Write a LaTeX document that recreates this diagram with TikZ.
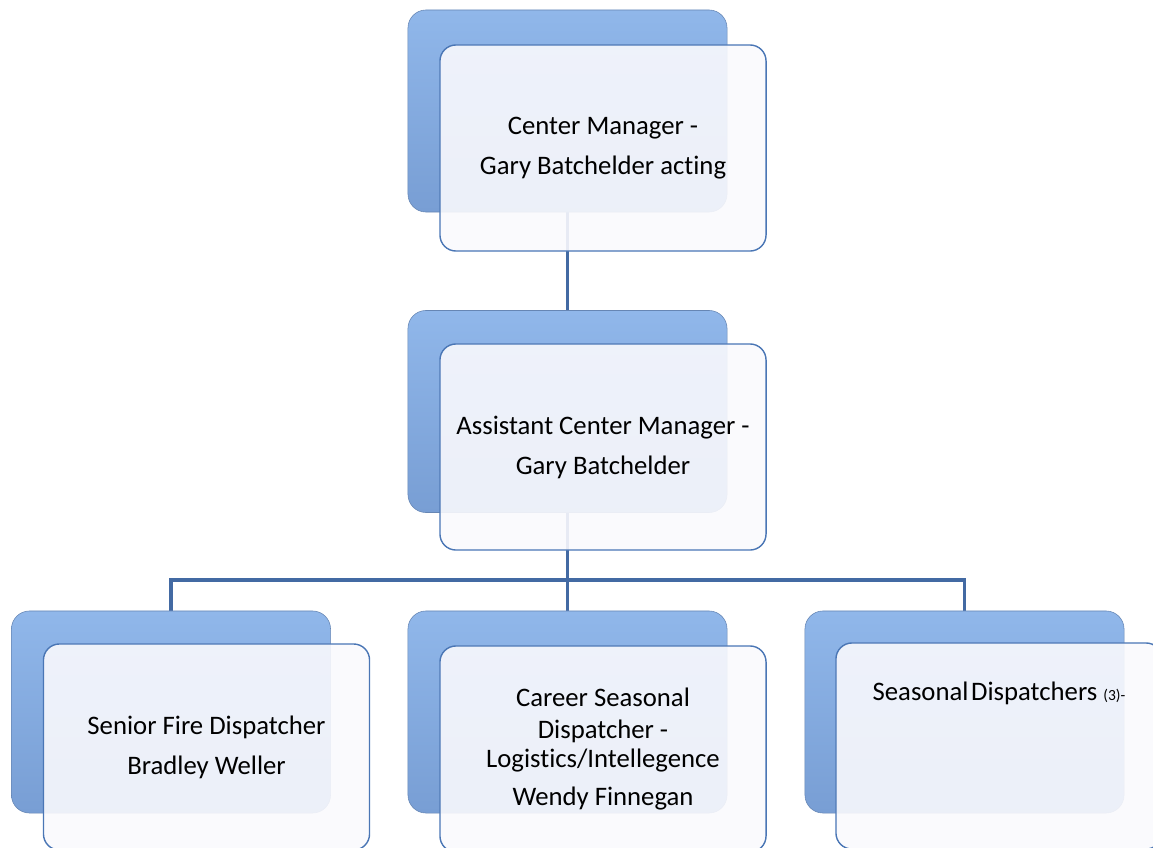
\documentclass[tikz,border=0pt]{standalone}
\usepackage{fontspec}
\setmainfont{Carlito}[Ligatures=NoCommon]
\usetikzlibrary{backgrounds}

\definecolor{boxblue}{RGB}{74,118,181}
\definecolor{linkblue}{RGB}{67,106,163}
\definecolor{backtop}{RGB}{144,183,234}
\definecolor{backbottom}{RGB}{120,158,212}
\definecolor{frontfill}{RGB}{249,249,253}

\tikzset{
  backbox/.style={rectangle, rounded corners=0.45cm, minimum width=7.975cm,
    minimum height=5.05cm, top color=backtop, bottom color=backbottom,
    draw=backbottom!85!black, line width=0.4pt},
  frontbox/.style={rectangle, rounded corners=0.4cm, minimum width=8.15cm,
    minimum height=5.15cm, fill=frontfill, fill opacity=0.9, text opacity=1,
    draw=boxblue, line width=1pt, align=center, font=\fontsize{19}{28.5}\selectfont},
  link/.style={draw=linkblue, line width=2.8pt}
}

\begin{document}
\begin{tikzpicture}[x=0.025cm, y=-0.025cm]
\useasboundingbox (0,0) rectangle (1153,848);

%draw the back boxes
\node[backbox] (cmback) at (567.5, 111) {};
\node[backbox] (acmback) at (567.5, 411.5) {};
\node[backbox] (sfdback) at (171, 712) {};
\node[backbox] (csdback) at (567.5, 712) {};
\node[backbox] (sdback) at (964.5, 712) {};

%draw the front boxes
\node[frontbox] (cm) at (603, 148) {Center Manager -\\Gary Batchelder acting};
\node[frontbox] (acm) at (603, 447) {Assistant Center Manager -\\Gary Batchelder};
\node[frontbox] (sfd) at (206.5, 747) {Senior Fire Dispatcher\\Bradley Weller};
\node[frontbox] (csd) at (603, 749) {Career Seasonal\\[-5.5pt]Dispatcher -\\[-8pt]Logistics/Intellegence\\[-1pt]Wendy Finnegan};
\node[frontbox, text height=0.5cm, text depth=2.75cm] (sd) at (999, 746)
  {Seasonal\hspace{0.1em}Dispatchers {\fontsize{11}{12}\selectfont(3)-}};

%draw the connectors
\coordinate (split) at (567.5, 580);
\begin{scope}[on background layer]
\draw[link] (cmback.south) -- (acmback.north);
\draw[link] (acmback.south) -- (split);
\draw[link] (sfdback.north) |- (split) -| (sdback.north);
\draw[link] (split) -- (csdback.north);
\end{scope}

\end{tikzpicture}
\end{document}
